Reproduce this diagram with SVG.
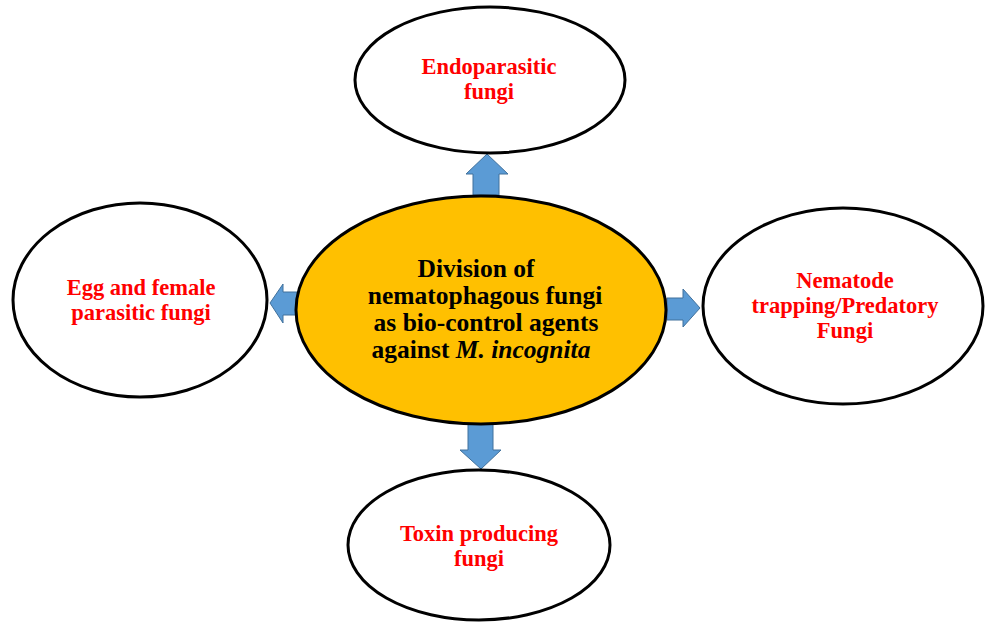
<svg xmlns="http://www.w3.org/2000/svg" width="990" height="624" viewBox="0 0 990 624">
<style>
.node{fill:#FFFFFF;stroke:#000000;stroke-width:3}
.center{fill:#FFC000;stroke:#000000;stroke-width:3}
.arrow{fill:#5B9BD5;stroke:#41719C;stroke-width:1}
.red{font-family:"Liberation Serif","Times New Roman",serif;font-weight:bold;font-size:22.5px;fill:#FF0000;text-anchor:middle}
.black{font-family:"Liberation Serif","Times New Roman",serif;font-weight:bold;font-size:25.5px;fill:#000000;text-anchor:middle}
</style>
<rect width="990" height="624" fill="#FFFFFF"/>
<g id="connectors">
<polygon class="arrow" points="487,154 508,174 499,174 499,195 473,195 473,174 466,174"/>
<polygon class="arrow" points="270,303 283,284 283,292 297,292 297,315 283,315 283,323"/>
<polygon class="arrow" points="700,308 683,289 683,298 667,298 667,320 683,320 683,327"/>
<polygon class="arrow" points="481,469 460,450 468,450 468,424 493,424 493,450 501,450"/>
</g>
<g id="node-top">
<ellipse class="node" cx="490" cy="80" rx="135" ry="73"/>
<text class="red" x="489" y="74">Endoparasitic</text>
<text class="red" x="489" y="99">fungi</text>
</g>
<g id="node-left">
<ellipse class="node" cx="140" cy="300" rx="127" ry="97"/>
<text class="red" x="141" y="295">Egg and female</text>
<text class="red" x="141" y="320">parasitic fungi</text>
</g>
<g id="node-right">
<ellipse class="node" cx="843" cy="306" rx="140" ry="98"/>
<text class="red" x="845" y="288">Nematode</text>
<text class="red" x="845" y="313">trapping/Predatory</text>
<text class="red" x="845" y="338">Fungi</text>
</g>
<g id="node-bottom">
<ellipse class="node" cx="479" cy="545" rx="131" ry="75"/>
<text class="red" x="479" y="541">Toxin producing</text>
<text class="red" x="479" y="566">fungi</text>
</g>
<g id="node-center">
<ellipse class="center" cx="481" cy="310" rx="185" ry="114"/>
<text class="black" x="476" y="277">Division of</text>
<text class="black" x="485" y="304">nematophagous fungi</text>
<text class="black" x="486" y="331">as bio-control agents</text>
<text class="black" x="481" y="358">against <tspan font-style="italic">M. incognita</tspan></text>
</g>
</svg>
